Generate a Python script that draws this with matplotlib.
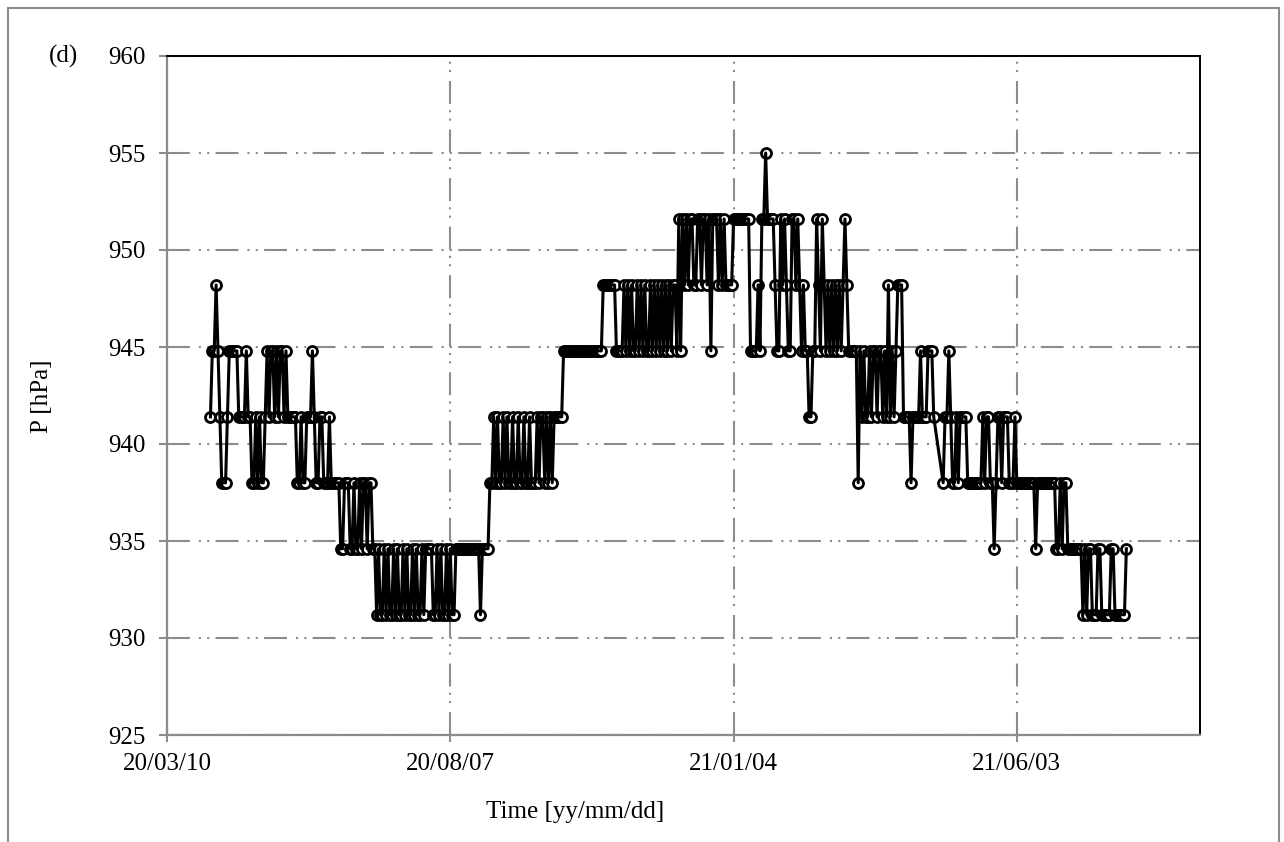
import numpy as np
import pandas as pd
import matplotlib
matplotlib.use("Agg")
import matplotlib.pyplot as plt
from matplotlib.lines import Line2D

plt.rcParams['font.family'] = ['Liberation Serif', 'DejaVu Serif']

# Quantised pressure levels of the sensor (hPa); codes 0..7 index into this list
pressure_levels = [931.2, 934.6, 938.0, 941.4, 944.8, 948.2, 951.6, 955.0]

# Daily readings, one code per day
run1_start = "2020-04-02"
run1_codes = (
    "3445432223" "4444433334" "3322323223" "4344343443" "4333332232"
    "2333432233" "2223222221" "1222112112" "1221221101" "0010100101"
    "0010100101" "0010111100" "1010010100" "1111111111" "1110111122"
    "3232232322" "3223223223" "2223233232" "3233333444" "4444444444"
    "4444444455" "5555544445" "4545445454" "5445454545" "4545455464"
    "6565665566" "5665646665" "6565555666" "6666664444" "5466766665"
    "4465654466" "5654544334" "4654654545" "4545456544" "4442434334"
    "3443443435" "3434555333" "3233334333" "4443"
)
run2_start = "2021-04-25"
run2_codes = (
    "2334322323" "3332222222" "2323322123" "3233322232" "2222222221"
    "2222222222" "1121221111" "1111010110" "0011000001" "10000001"
)

tick_dates = ["2020-03-10", "2020-08-07", "2021-01-04", "2021-06-03"]
tick_labels = ["20/03/10", "20/08/07", "21/01/04", "21/06/03"]
x_limits = ["2020-03-10", "2021-09-08"]
y_ticks = [925, 930, 935, 940, 945, 950, 955, 960]


def expand(start, codes):
    d = pd.date_range(start, periods=len(codes), freq="D")
    v = [pressure_levels[int(c)] for c in codes]
    return list(d), v

d1, v1 = expand(run1_start, run1_codes)
d2, v2 = expand(run2_start, run2_codes)
dates = d1 + d2
values = v1 + v2

W, H = 1284, 842
fig = plt.figure(figsize=(W / 100, H / 100), dpi=100)
ax = fig.add_axes([167 / W, 1 - 735 / H, (1200 - 167) / W, (735 - 56) / H])

grey = "#8c8c8c"
# markers first, connecting line drawn over them (as in the original)
ax.plot(dates, values, linestyle="none", marker="o", ms=7.2,
        mfc="white", mec="black", mew=2.0, zorder=3)
ax.plot(dates, values, color="black", lw=2.2, zorder=4)

ax.set_xlim(pd.to_datetime(x_limits[0]), pd.to_datetime(x_limits[1]))
ax.set_ylim(925, 960)
ax.set_yticks(y_ticks)
ax.set_xticks(pd.to_datetime(tick_dates))
ax.set_xticklabels(tick_labels)

ax.set_axisbelow(True)
ax.grid(True, color=grey, lw=1.5, linestyle=(0, (11, 4.3, 1, 3, 1, 3)))

for s in ["left", "bottom"]:
    ax.spines[s].set_color(grey)
    ax.spines[s].set_linewidth(1.6)
for s in ["top", "right"]:
    ax.spines[s].set_color("black")
    ax.spines[s].set_linewidth(1.4)

ax.tick_params(axis="y", direction="out", length=5.5, width=1.5, color=grey,
               labelsize=18, pad=10)
ax.tick_params(axis="x", direction="inout", length=10, width=1.5, color=grey,
               labelsize=18, pad=8)

fig.text(575 / W, 1 - 812 / H, "Time [yy/mm/dd]", ha="center", va="center", fontsize=18)
fig.text(42 / W, 1 - 396 / H, "P [hPa]", ha="center", va="center", rotation=90, fontsize=18)
fig.text(49 / W, 1 - 56 / H, "(d)", ha="left", va="center", fontsize=18)

# outer frame (open at the bottom)
bx0, bx1, by1 = 7.5 / W, 1278.5 / W, 1 - 8 / H
for xs, ys in [([bx0, bx0], [0, by1]), ([bx1, bx1], [0, by1]), ([bx0, bx1], [by1, by1])]:
    fig.add_artist(Line2D(xs, ys, transform=fig.transFigure, color=grey, lw=1.5))

fig.savefig("out.png", dpi=100)
